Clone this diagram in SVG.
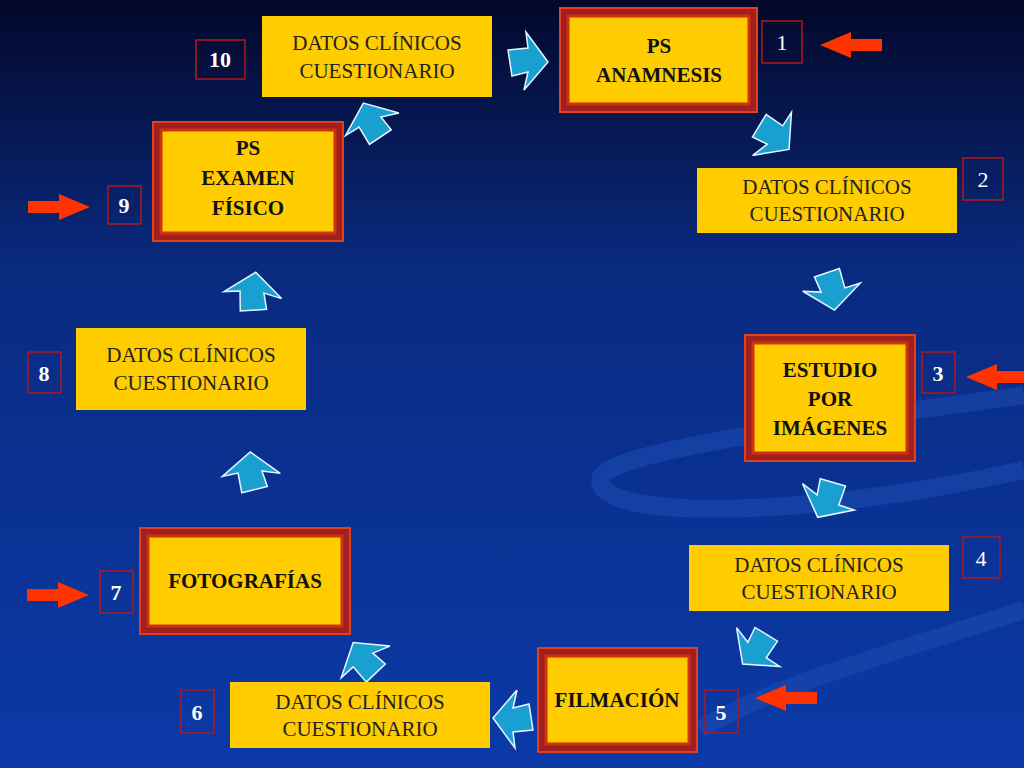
<svg xmlns="http://www.w3.org/2000/svg" width="1024" height="768" viewBox="0 0 1024 768">
<defs>
<linearGradient id="bg" x1="0" y1="0" x2="0" y2="1">
<stop offset="0" stop-color="#03082a"/><stop offset="0.35" stop-color="#0a2a80"/><stop offset="1" stop-color="#0a3aa8"/>
</linearGradient>
<path id="ba" d="M-20,-10 L0,-12 L-2,-28 L20,2 L-4,30 L0,12 L-16,16 Z"/>
<path id="ra" d="M-31,0 L0,-13 L0,-6 L31,-6 L31,6 L0,6 L0,13 Z"/>
<style>
.y{fill:#ffcc00}
.dbl{fill:#ffcc00;stroke:#cc3311;stroke-width:3}
.outer{fill:#a02020;stroke:#e04020;stroke-width:2}
.num{fill:none;stroke:#b01818;stroke-width:1.5}
.t{font-family:"Liberation Serif",serif;font-size:21px;fill:#222;text-anchor:middle}
.tb{font-family:"Liberation Serif",serif;font-size:21px;font-weight:bold;fill:#111;text-anchor:middle}
.n{font-family:"Liberation Serif",serif;font-size:22px;fill:#fff;text-anchor:middle}
.nb{font-family:"Liberation Serif",serif;font-size:22px;font-weight:bold;fill:#fff;text-anchor:middle}
.blue{fill:#1aa0d0;stroke:#e8f4ff;stroke-width:1.5}
.red{fill:#ff3300}
</style>
</defs>
<rect width="1024" height="768" fill="url(#bg)"/>
<g fill="none" stroke="#1a4bb0" stroke-width="18" opacity="0.6">
<path d="M1024,395 C850,420 600,450 600,480 C600,520 800,520 1024,470"/>
<path d="M1024,610 C900,650 760,690 700,730"/>
</g>
<g id="connectors">
<use href="#ba" class="blue" transform="translate(528,60)"/>
<use href="#ba" class="blue" transform="translate(775,135) rotate(40)"/>
<use href="#ba" class="blue" transform="translate(833,290) rotate(80)"/>
<use href="#ba" class="blue" transform="translate(828,500) rotate(115)"/>
<use href="#ba" class="blue" transform="translate(757,650) rotate(130)"/>
<use href="#ba" class="blue" transform="translate(513,720) rotate(180)"/>
<use href="#ba" class="blue" transform="translate(363,660) rotate(235)"/>
<use href="#ba" class="blue" transform="translate(250,472) rotate(265)"/>
<use href="#ba" class="blue" transform="translate(252,292) rotate(275)"/>
<use href="#ba" class="blue" transform="translate(370,122) rotate(245)"/>
<use href="#ra" class="red" transform="translate(851,45)"/>
<use href="#ra" class="red" transform="translate(997,377)"/>
<use href="#ra" class="red" transform="translate(786,698)"/>
<use href="#ra" class="red" transform="translate(59,207) rotate(180)"/>
<use href="#ra" class="red" transform="translate(58,595) rotate(180)"/>
</g>
<g id="n1"><rect class="outer" x="560" y="8" width="197" height="104"/><rect class="dbl" x="568" y="16" width="181" height="88"/><text class="tb" x="659" y="53">PS</text><text class="tb" x="659" y="82">ANAMNESIS</text><rect class="num" x="762" y="21" width="40" height="42"/><text class="n" x="782" y="50">1</text></g>
<g id="n2"><rect class="y" x="697" y="168" width="260" height="65"/><text class="t" x="827" y="194">DATOS CLÍNICOS</text><text class="t" x="827" y="221">CUESTIONARIO</text><rect class="num" x="963" y="158" width="40" height="42"/><text class="n" x="983" y="187">2</text></g>
<g id="n3"><rect class="outer" x="745" y="335" width="170" height="126"/><rect class="dbl" x="753" y="343" width="154" height="110"/><text class="tb" x="830" y="377">ESTUDIO</text><text class="tb" x="830" y="406">POR</text><text class="tb" x="830" y="435">IMÁGENES</text><rect class="num" x="922" y="352" width="33" height="41"/><text class="nb" x="938" y="381">3</text></g>
<g id="n4"><rect class="y" x="689" y="545" width="260" height="66"/><text class="t" x="819" y="572">DATOS CLÍNICOS</text><text class="t" x="819" y="599">CUESTIONARIO</text><rect class="num" x="963" y="537" width="37" height="41"/><text class="n" x="981" y="566">4</text></g>
<g id="n5"><rect class="outer" x="538" y="648" width="159" height="104"/><rect class="dbl" x="546" y="656" width="143" height="88"/><text class="tb" x="617" y="707">FILMACIÓN</text><rect class="num" x="705" y="690" width="33" height="43"/><text class="nb" x="721" y="720">5</text></g>
<g id="n6"><rect class="y" x="230" y="682" width="260" height="66"/><text class="t" x="360" y="709">DATOS CLÍNICOS</text><text class="t" x="360" y="736">CUESTIONARIO</text><rect class="num" x="181" y="690" width="33" height="43"/><text class="nb" x="197" y="720">6</text></g>
<g id="n7"><rect class="outer" x="140" y="528" width="210" height="106"/><rect class="dbl" x="148" y="536" width="194" height="90"/><text class="tb" x="245" y="588">FOTOGRAFÍAS</text><rect class="num" x="100" y="571" width="33" height="42"/><text class="nb" x="116" y="600">7</text></g>
<g id="n8"><rect class="y" x="76" y="328" width="230" height="82"/><text class="t" x="191" y="362">DATOS CLÍNICOS</text><text class="t" x="191" y="390">CUESTIONARIO</text><rect class="num" x="28" y="352" width="33" height="41"/><text class="nb" x="44" y="381">8</text></g>
<g id="n9"><rect class="outer" x="153" y="122" width="190" height="119"/><rect class="dbl" x="161" y="130" width="174" height="103"/><text class="tb" x="248" y="155">PS</text><text class="tb" x="248" y="185">EXAMEN</text><text class="tb" x="248" y="215">FÍSICO</text><rect class="num" x="108" y="186" width="33" height="38"/><text class="nb" x="124" y="213">9</text></g>
<g id="n10"><rect class="y" x="262" y="16" width="230" height="81"/><text class="t" x="377" y="50">DATOS CLÍNICOS</text><text class="t" x="377" y="78">CUESTIONARIO</text><rect class="num" x="196" y="40" width="49" height="39"/><text class="nb" x="220" y="67">10</text></g>
</svg>
